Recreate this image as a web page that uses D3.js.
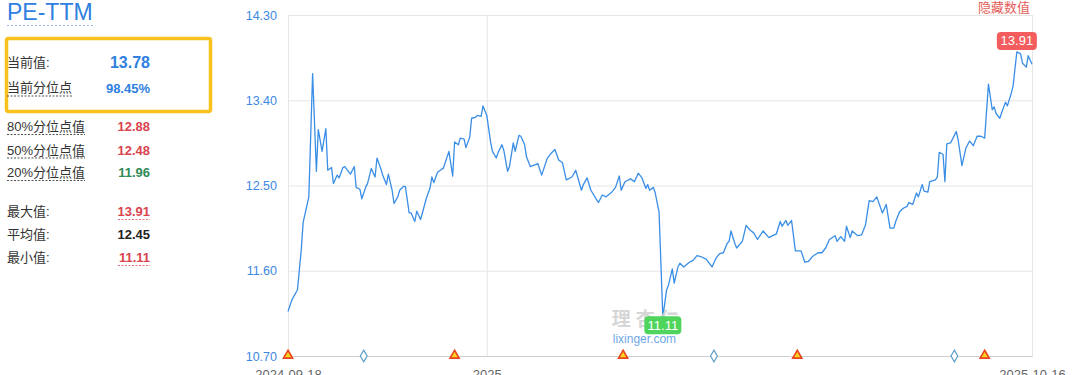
<!DOCTYPE html>
<html>
<head>
<meta charset="utf-8">
<script src="https://cdn.jsdelivr.net/npm/d3@7"></script>
<style>
  body { margin: 0; background: #fff; }
  svg { display: block; font-family: Arial, 'Liberation Sans', 'Noto Sans CJK SC', sans-serif; }
</style>
</head>
<body>
<div id="canvas"></div>
<script>
/*
 * Data
 *
 */
const dates = [
  '2024-09-18','2024-09-20','2024-09-23','2024-09-24','2024-09-25','2024-09-26','2024-09-29','2024-10-01',
  '2024-10-03','2024-10-04','2024-10-06','2024-10-08','2024-10-09','2024-10-11','2024-10-12','2024-10-14',
  '2024-10-15','2024-10-17','2024-10-18','2024-10-21','2024-10-23','2024-10-24','2024-10-26','2024-10-27',
  '2024-10-29','2024-10-30','2024-11-01','2024-11-03','2024-11-04','2024-11-06','2024-11-07','2024-11-09',
  '2024-11-10','2024-11-12','2024-11-13','2024-11-15','2024-11-16','2024-11-18','2024-11-19','2024-11-21',
  '2024-11-22','2024-11-24','2024-11-25','2024-11-27','2024-11-28','2024-11-30','2024-12-02','2024-12-03',
  '2024-12-04','2024-12-06','2024-12-08','2024-12-09','2024-12-11','2024-12-12','2024-12-14','2024-12-15',
  '2024-12-17','2024-12-18','2024-12-20','2024-12-21','2024-12-23','2024-12-24','2024-12-26','2024-12-27',
  '2024-12-29','2024-12-30','2025-01-01','2025-01-03','2025-01-04','2025-01-06','2025-01-07','2025-01-09',
  '2025-01-10','2025-01-12','2025-01-13','2025-01-15','2025-01-16','2025-01-18','2025-01-19','2025-01-21',
  '2025-01-22','2025-01-24','2025-01-28','2025-01-30','2025-02-02','2025-02-04','2025-02-06','2025-02-08',
  '2025-02-10','2025-02-12','2025-02-15','2025-02-17','2025-02-20','2025-02-21','2025-02-23','2025-02-25',
  '2025-02-28','2025-03-01','2025-03-03','2025-03-05','2025-03-08','2025-03-10','2025-03-12','2025-03-13',
  '2025-03-15','2025-03-18','2025-03-20','2025-03-22','2025-03-24','2025-03-26','2025-03-27','2025-03-28',
  '2025-03-30','2025-03-31','2025-04-02','2025-04-04','2025-04-06','2025-04-07','2025-04-09','2025-04-10',
  '2025-04-12','2025-04-13','2025-04-15','2025-04-18','2025-04-20','2025-04-22','2025-04-24','2025-04-27',
  '2025-04-30','2025-05-02','2025-05-04','2025-05-06','2025-05-08','2025-05-09','2025-05-10','2025-05-12',
  '2025-05-13','2025-05-16','2025-05-18','2025-05-20','2025-05-22','2025-05-24','2025-05-27','2025-05-30',
  '2025-06-01','2025-06-03','2025-06-05','2025-06-06','2025-06-08','2025-06-09','2025-06-11','2025-06-13',
  '2025-06-16','2025-06-18','2025-06-20','2025-06-22','2025-06-25','2025-06-27','2025-06-29','2025-07-01',
  '2025-07-04','2025-07-05','2025-07-07','2025-07-09','2025-07-10','2025-07-12','2025-07-13','2025-07-16',
  '2025-07-18','2025-07-20','2025-07-22','2025-07-24','2025-07-26','2025-07-29','2025-07-31','2025-08-02',
  '2025-08-04','2025-08-05','2025-08-07','2025-08-09','2025-08-11','2025-08-12','2025-08-14','2025-08-16',
  '2025-08-17','2025-08-19','2025-08-20','2025-08-22','2025-08-23','2025-08-26','2025-08-27','2025-08-28',
  '2025-08-30','2025-08-31','2025-09-01','2025-09-03','2025-09-06','2025-09-07','2025-09-09','2025-09-11',
  '2025-09-13','2025-09-15','2025-09-17','2025-09-19','2025-09-21','2025-09-23','2025-09-25','2025-09-26',
  '2025-09-27','2025-09-29','2025-09-30','2025-10-02','2025-10-03','2025-10-05','2025-10-06','2025-10-08',
  '2025-10-10','2025-10-11','2025-10-13','2025-10-14','2025-10-16'
];
const peTTM = [
  11.17,11.29,11.40,11.61,11.82,12.11,12.38,13.68,
  12.65,13.09,12.86,13.10,12.66,12.69,12.52,12.61,
  12.58,12.69,12.70,12.62,12.70,12.48,12.46,12.36,
  12.48,12.52,12.68,12.59,12.79,12.68,12.61,12.51,
  12.62,12.45,12.31,12.38,12.45,12.49,12.49,12.21,
  12.21,12.12,12.23,12.14,12.21,12.36,12.47,12.59,
  12.53,12.64,12.67,12.68,12.80,12.86,12.60,12.96,
  12.93,13.00,12.99,12.90,13.01,13.21,13.22,13.24,
  13.23,13.34,13.24,12.96,12.86,12.79,12.85,12.93,
  12.87,12.65,12.70,12.95,12.86,13.03,13.02,12.93,
  12.80,12.70,12.73,12.61,12.79,12.84,12.88,12.77,
  12.74,12.56,12.59,12.66,12.45,12.51,12.58,12.45,
  12.35,12.32,12.40,12.38,12.43,12.48,12.60,12.45,
  12.54,12.57,12.54,12.63,12.58,12.47,12.51,12.45,
  12.48,12.42,12.22,11.11,11.40,11.45,11.62,11.47,
  11.64,11.68,11.64,11.69,11.71,11.76,11.75,11.72,
  11.64,11.73,11.78,11.79,11.89,11.91,12.02,11.89,
  11.84,11.91,12.08,12.03,12.00,11.93,12.02,11.95,
  11.97,11.99,12.12,12.07,12.13,12.08,12.13,11.81,
  11.81,11.69,11.70,11.75,11.79,11.79,11.84,11.93,
  11.97,11.91,11.96,11.91,12.07,11.95,12.02,11.97,
  11.98,12.08,12.34,12.33,12.38,12.21,12.30,12.05,
  12.05,12.12,12.22,12.26,12.28,12.32,12.30,12.42,
  12.38,12.51,12.44,12.43,12.54,12.56,12.59,12.85,
  12.83,12.54,12.94,12.95,13.07,12.98,12.71,12.89,
  12.97,12.92,13.02,13.02,13.00,13.57,13.30,13.33,
  13.26,13.21,13.27,13.38,13.34,13.47,13.55,13.91,
  13.89,13.79,13.75,13.87,13.78
];
const triangleDates = ['2024-09-18','2024-12-15','2025-03-14','2025-06-14','2025-09-21'];
const diamondDates = ['2024-10-28','2025-05-01','2025-09-05'];
const yTicks = [10.70, 11.60, 12.50, 13.40, 14.30];
const xTickDates = ['2024-09-18','2025-01-01','2025-10-16'];
const xTickLabels = ['2024-09-18','2025','2025-10-16'];

const topLabels = ['当前值:', '当前分位点'];
const topValues = ['13.78', '98.45%'];
const quantLabels = ['80%分位点值', '50%分位点值', '20%分位点值'];
const quantValues = ['12.88', '12.48', '11.96'];
const statLabels = ['最大值:', '平均值:', '最小值:'];
const statValues = ['13.91', '12.45', '11.11'];

/*
 * Layout
 *
 */
const svgWidth = 1080, svgHeight = 375;
const margin = { top: 15, left: 288, right: 48, bottom: 19 };
const width = svgWidth - margin.left - margin.right,
  height = svgHeight - margin.top - margin.bottom;

const blue = '#2f80e0', red = '#d9434e', green = '#2e8b57', text = '#333';

const parse = d3.timeParse('%Y-%m-%d');
const data = dates.map((d, i) => ({ date: parse(d), value: peTTM[i] }));

const svg = d3.select('#canvas').append('svg')
  .attr('width', svgWidth)
  .attr('height', svgHeight);

/*
 * Left info panel
 *
 */
const panel = svg.append('g');

panel.append('text')
  .attr('x', 7).attr('y', 20)
  .attr('fill', blue)
  .style('font-size', '23px')
  .text('PE-TTM');
panel.append('line')
  .attr('x1', 7).attr('x2', 95).attr('y1', 25.5).attr('y2', 25.5)
  .attr('stroke', '#8fb8ee').attr('stroke-dasharray', '2,2');

panel.append('rect')
  .attr('x', 6.5).attr('y', 38.5).attr('width', 204).attr('height', 73)
  .attr('rx', 2)
  .attr('fill', 'none').attr('stroke', '#f8c11c').attr('stroke-width', 3.5);

const topY = [67, 92];
topLabels.forEach((t, i) => {
  panel.append('text')
    .attr('x', 7).attr('y', topY[i])
    .attr('fill', text).style('font-size', '13px')
    .text(t);
  panel.append('text')
    .attr('x', 150).attr('y', topY[i] + 1)
    .attr('text-anchor', 'end')
    .attr('fill', blue).style('font-weight', 'bold')
    .style('font-size', i === 0 ? '16px' : '13px')
    .text(topValues[i]);
});
panel.append('line')
  .attr('x1', 7).attr('x2', 72).attr('y1', 96).attr('y2', 96)
  .attr('stroke', '#555').attr('stroke-dasharray', '2,1.5');

const quantY = [131, 154.5, 177];
const quantColor = [red, red, green];
quantLabels.forEach((t, i) => {
  panel.append('text')
    .attr('x', 7).attr('y', quantY[i])
    .attr('fill', text).style('font-size', '13px')
    .text(t);
  panel.append('line')
    .attr('x1', 7).attr('x2', 85).attr('y1', quantY[i] + 3.5).attr('y2', quantY[i] + 3.5)
    .attr('stroke', '#555').attr('stroke-dasharray', '2,1.5');
  panel.append('text')
    .attr('x', 150).attr('y', quantY[i])
    .attr('text-anchor', 'end')
    .attr('fill', quantColor[i]).style('font-weight', 'bold').style('font-size', '13px')
    .text(quantValues[i]);
});

const statY = [216, 239, 262];
const statColor = [red, '#222', red];
statLabels.forEach((t, i) => {
  panel.append('text')
    .attr('x', 7).attr('y', statY[i])
    .attr('fill', text).style('font-size', '13px')
    .text(t);
  panel.append('text')
    .attr('x', 150).attr('y', statY[i])
    .attr('text-anchor', 'end')
    .attr('fill', statColor[i]).style('font-weight', 'bold').style('font-size', '13px')
    .text(statValues[i]);
  if (i !== 1) {
    panel.append('line')
      .attr('x1', 118).attr('x2', 150).attr('y1', statY[i] + 3.5).attr('y2', statY[i] + 3.5)
      .attr('stroke', '#e8707a').attr('stroke-dasharray', '2,1.5');
  }
});

/*
 * Scales and axes
 *
 */
const xScale = d3.scaleTime()
  .domain([parse(dates[0]), parse(dates[dates.length - 1])])
  .range([0, width]);

const yScale = d3.scaleLinear()
  .domain([yTicks[0], yTicks[yTicks.length - 1]])
  .range([height, 0]);

const chart = svg.append('g')
  .attr('transform', `translate(${margin.left}, ${margin.top})`);

const leftAxis = chart.append('g')
  .call(d3.axisLeft(yScale).tickValues(yTicks).tickSize(-width).tickPadding(11)
    .tickFormat(d3.format('.2f')));
leftAxis.select('.domain').remove();
leftAxis.selectAll('line').attr('stroke', '#e6e6e6');
leftAxis.selectAll('text')
  .attr('fill', '#3c88e2').style('font-size', '12.5px');

const bottomAxis = chart.append('g')
  .attr('transform', `translate(0,${height})`)
  .call(d3.axisBottom(xScale).tickValues(xTickDates.map(parse)).tickSize(-height).tickPadding(14)
    .tickFormat((d, i) => xTickLabels[i]));
bottomAxis.select('.domain').attr('stroke', '#cfcfcf');
bottomAxis.selectAll('line').attr('stroke', '#e6e6e6');
bottomAxis.selectAll('text')
  .attr('fill', '#666').style('font-size', '13px');

/*
 * Draw the series
 *
 */
const line = d3.line()
  .x((d) => xScale(d.date))
  .y((d) => yScale(d.value));

chart.append('path')
  .datum(data)
  .attr('fill', 'none')
  .attr('stroke', '#3a8ee6')
  .attr('stroke-width', 1.3)
  .attr('stroke-linejoin', 'round')
  .attr('d', line);

// markers along the bottom
chart.selectAll('.tri')
  .data(triangleDates)
  .enter().append('path')
  .attr('class', 'tri')
  .attr('transform', (d) => `translate(${xScale(parse(d))},${height - 0.5})`)
  .attr('d', d3.symbol().type(d3.symbolTriangle).size(36))
  .attr('fill', '#ffd21f')
  .attr('stroke', '#e8451e')
  .attr('stroke-width', 1.6);

chart.selectAll('.dia')
  .data(diamondDates)
  .enter().append('path')
  .attr('class', 'dia')
  .attr('transform', (d) => `translate(${xScale(parse(d))},${height})`)
  .attr('d', d3.symbol().type(d3.symbolDiamond).size(40))
  .attr('fill', '#fff')
  .attr('stroke', '#5b9ec6')
  .attr('stroke-width', 1.2);

// watermark
const wm = chart.append('g').attr('opacity', 0.9);
wm.append('text')
  .attr('x', xScale(parse('2025-03-08'))).attr('y', 326 - margin.top)
  .attr('fill', '#d2d2d2')
  .style('font-size', '19px').style('font-weight', 'bold').style('letter-spacing', '5px')
  .text('理杏仁');
wm.append('text')
  .attr('x', xScale(parse('2025-03-08')) + 1).attr('y', 343 - margin.top)
  .attr('fill', '#5f9ee6')
  .style('font-size', '12px')
  .text('lixinger.com');

// max / min labels
const maxPt = data.reduce((a, b) => (b.value > a.value ? b : a));
const minPt = data.reduce((a, b) => (b.value < a.value ? b : a));

const maxG = chart.append('g')
  .attr('transform', `translate(${xScale(maxPt.date)},${yScale(maxPt.value) - 2})`);
maxG.append('rect')
  .attr('x', -20).attr('y', -18).attr('width', 40).attr('height', 18).attr('rx', 4)
  .attr('fill', '#f35d5d');
maxG.append('text')
  .attr('y', -4.5).attr('text-anchor', 'middle')
  .attr('fill', '#fff').style('font-size', '13px')
  .text(maxPt.value.toFixed(2));

const minG = chart.append('g')
  .attr('transform', `translate(${xScale(minPt.date)},${yScale(minPt.value)})`);
minG.append('rect')
  .attr('x', -18.5).attr('y', -1).attr('width', 37).attr('height', 18).attr('rx', 4)
  .attr('fill', '#4fd45c');
minG.append('text')
  .attr('y', 12.5).attr('text-anchor', 'middle')
  .attr('fill', '#fff').style('font-size', '13px')
  .text(minPt.value.toFixed(2));

svg.append('text')
  .attr('x', 1030).attr('y', 12)
  .attr('text-anchor', 'end')
  .attr('fill', '#e5605a')
  .style('font-size', '13px')
  .text('隐藏数值');
</script>
</body>
</html>
